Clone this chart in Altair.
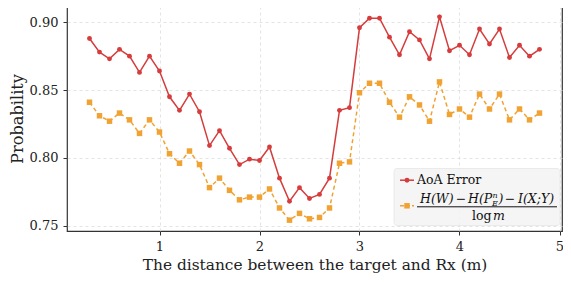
import altair as alt
import pandas as pd

dist = [0.3, 0.4, 0.5, 0.6, 0.7, 0.8, 0.9, 1.0, 1.1, 1.2, 1.3, 1.4,
        1.5, 1.6, 1.7, 1.8, 1.9, 2.0, 2.1, 2.2, 2.3, 2.4, 2.5,
        2.6, 2.7, 2.8, 2.9, 3.0, 3.1, 3.2, 3.3, 3.4, 3.5, 3.6, 3.7,
        3.8, 3.9, 4.0, 4.1, 4.2, 4.3, 4.4, 4.5, 4.6, 4.7, 4.8]
aoa_error = [0.888, 0.878, 0.873, 0.880, 0.875, 0.863, 0.875, 0.864, 0.845, 0.835, 0.847, 0.834,
             0.809, 0.820, 0.807, 0.795, 0.799, 0.798, 0.808, 0.785, 0.768, 0.778, 0.770,
             0.773, 0.785, 0.835, 0.837, 0.896, 0.903, 0.903, 0.889, 0.876, 0.893, 0.887, 0.873,
             0.904, 0.879, 0.883, 0.876, 0.895, 0.884, 0.895, 0.874, 0.883, 0.875, 0.880]
bound = [0.841, 0.831, 0.827, 0.833, 0.828, 0.818, 0.828, 0.819, 0.803, 0.796, 0.805, 0.795,
         0.778, 0.785, 0.776, 0.769, 0.771, 0.771, 0.777, 0.763, 0.754, 0.759, 0.755,
         0.756, 0.763, 0.796, 0.797, 0.848, 0.855, 0.855, 0.841, 0.830, 0.845, 0.839, 0.827,
         0.856, 0.832, 0.836, 0.830, 0.847, 0.836, 0.847, 0.828, 0.836, 0.828, 0.833]
x_ticks = [1, 2, 3, 4, 5]
y_ticks = [0.75, 0.80, 0.85, 0.90]

RED = "#d63c3c"
ORANGE = "#f0a232"
FONT = "DejaVu Serif"

df = pd.DataFrame({"dist": dist, "aoa": aoa_error, "bound": bound})

xs = alt.Scale(domain=[0.075, 5.025], nice=False, zero=False)
ys = alt.Scale(domain=[0.746, 0.912], nice=False, zero=False)

xenc = alt.X("dist:Q", scale=xs,
             axis=alt.Axis(values=x_ticks, format="d",
                           title="The distance between the target and Rx (m)"))

base = alt.Chart(df)
red_line = base.mark_line(color=RED, strokeWidth=1.5).encode(
    x=xenc,
    y=alt.Y("aoa:Q", scale=ys,
            axis=alt.Axis(values=y_ticks, format=".2f", title="Probability")))
red_pts = base.mark_point(shape="circle", filled=True, color=RED, size=24, opacity=1).encode(
    x=alt.X("dist:Q", scale=xs), y=alt.Y("aoa:Q", scale=ys))
or_line = base.mark_line(color=ORANGE, strokeWidth=1.5, strokeDash=[4, 3]).encode(
    x=alt.X("dist:Q", scale=xs), y=alt.Y("bound:Q", scale=ys))
or_pts = base.mark_point(shape="square", filled=True, color=ORANGE, size=30, opacity=1).encode(
    x=alt.X("dist:Q", scale=xs), y=alt.Y("bound:Q", scale=ys))

# legend (pixel positions inside the plot area)
dy = 2
one = alt.Chart(pd.DataFrame({"a": [0]}))
leg_box = one.mark_rect(fill="#f4f4f4", opacity=0.85, stroke="#e2e2e2",
                        strokeWidth=0.8, cornerRadius=3).encode(
    x=alt.value(327), x2=alt.value(493), y=alt.value(160.5 + dy), y2=alt.value(217.5 + dy))
leg_l1 = one.mark_rule(color=RED, strokeWidth=1.5).encode(
    x=alt.value(333), x2=alt.value(347), y=alt.value(172.2 + dy))
leg_p1 = one.mark_point(shape="circle", filled=True, color=RED, size=24, opacity=1).encode(
    x=alt.value(340), y=alt.value(172.2 + dy))
leg_l2 = one.mark_rule(color=ORANGE, strokeWidth=1.5, strokeDash=[4, 2]).encode(
    x=alt.value(333), x2=alt.value(347), y=alt.value(197.8 + dy))
leg_p2 = one.mark_point(shape="square", filled=True, color=ORANGE, size=30, opacity=1).encode(
    x=alt.value(340), y=alt.value(197.8 + dy))


def txt(s, x, y, size=12.5, style="normal", align="left"):
    return one.mark_text(text=s, align=align, baseline="alphabetic", font=FONT,
                         fontSize=size, fontStyle=style, color="#111").encode(
        x=alt.value(x), y=alt.value(y + dy))


leg_t1 = txt("AoA Error", 350, 176.2)
num_y = 194.5
n1 = txt("H(W)", 353, num_y, style="italic")
m1 = txt("−", 394, num_y, align="center")
n2 = txt("H(P", 401, num_y, style="italic")
sup = txt("n", 425.5, num_y - 4.5, size=8, style="italic")
sub = txt("E", 425, num_y + 3, size=8, style="italic")
n3 = txt(")", 431.5, num_y, style="italic")
m2 = txt("−", 443, num_y, align="center")
n4 = txt("I(X;Y)", 451, num_y, style="italic")
bar = one.mark_rule(color="#111", strokeWidth=1).encode(
    x=alt.value(350), x2=alt.value(490), y=alt.value(198.8 + dy))
d1 = txt("log", 405, 211.5)
d2 = txt("m", 426, 211.5, style="italic")

chart = alt.layer(
    red_line, or_line, red_pts, or_pts,
    leg_box, leg_l1, leg_p1, leg_l2, leg_p2, leg_t1,
    n1, m1, n2, sup, sub, n3, m2, n4, bar, d1, d2,
).properties(
    width=495, height=225,
    autosize=alt.AutoSizeParams(type="none"),
    padding={"left": 59, "top": -2, "right": 1, "bottom": 43},
).configure_view(
    stroke="#333333", strokeWidth=1.2
).configure_axis(
    labelFont=FONT, titleFont=FONT, labelFontSize=13,
    titleFontWeight="normal", labelColor="#222", titleColor="#222",
    domain=False, tickColor="#333", tickSize=4, tickWidth=1,
    grid=True, gridColor="#dcdcdc", gridDash=[3, 3], gridWidth=0.8,
).configure_axisX(
    labelPadding=5, titlePadding=4, titleFontSize=15.4
).configure_axisY(
    labelPadding=5, titlePadding=4, titleFontSize=16.2
)

chart.save("out.html", embed_options={"renderer": "svg", "actions": False})
